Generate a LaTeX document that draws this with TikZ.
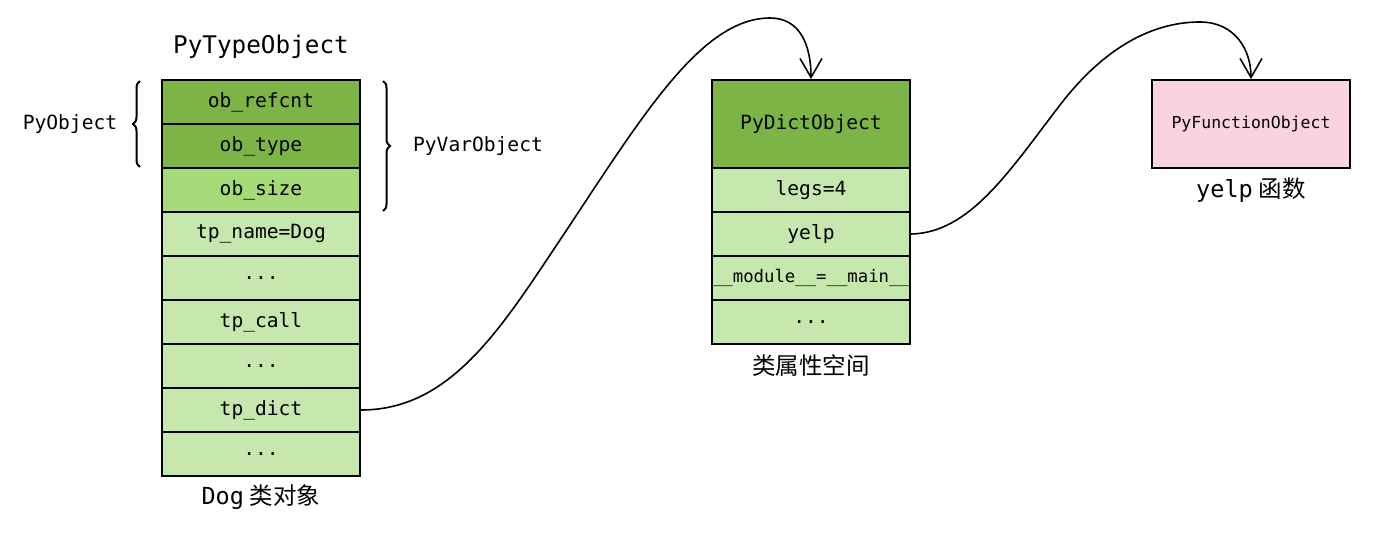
\documentclass[tikz,border=0pt]{standalone}
\usepackage{fontspec}
\setmonofont{DejaVu Sans Mono}
\newfontfamily\cjk{Noto Sans CJK SC}
\usetikzlibrary{arrows.meta,decorations.pathreplacing,positioning}
\definecolor{dgreen}{HTML}{7DB446}
\definecolor{mgreen}{HTML}{A6D977}
\definecolor{lgreen}{HTML}{C6E8AE}
\definecolor{pinkf}{HTML}{F9D3DF}
\tikzset{
  cell/.style={draw=black, line width=2pt, minimum width=198pt, minimum height=44pt,
    inner sep=0pt, font=\ttfamily\fontsize{19.6}{20}\selectfont, anchor=north west},
  small/.style={font=\ttfamily\fontsize{17.3}{18}\selectfont},
  lbl/.style={font=\ttfamily\fontsize{19.6}{20}\selectfont},
  big/.style={font=\ttfamily\fontsize{23.5}{25}\selectfont},
  conn/.style={line width=1.6pt, -{Straight Barb[length=19pt,width=22pt,line width=1.6pt]}},
  bracestyle/.style={line width=2pt, decorate, decoration={brace, amplitude=7pt}}
}
\begin{document}
\begin{tikzpicture}[x=1pt,y=-1pt]
\useasboundingbox (0,0) rectangle (1377,535);
% left column
\node[cell, fill=dgreen] (refcnt) at (161,79) {ob\_refcnt};
\node[cell, fill=dgreen] (type) at (161,123) {ob\_type};
\node[cell, fill=mgreen] (size) at (161,167) {ob\_size};
\node[cell, fill=lgreen] (name) at (161,211) {tp\_name=Dog};
\node[cell, fill=lgreen] (d1) at (161,255) {...};
\node[cell, fill=lgreen] (call) at (161,299) {tp\_call};
\node[cell, fill=lgreen] (d2) at (161,343) {...};
\node[cell, fill=lgreen] (tpdict) at (161,387) {tp\_dict};
\node[cell, fill=lgreen] (d3) at (161,431) {...};
\node[font=\ttfamily\fontsize{24.3}{26}\selectfont] (title) at (261,47) {PyTypeObject};
\node[big] (dog) at (261,497) {Dog\hspace{6pt}{\cjk 类对象}};
% braces
\coordinate (lb1) at (140,167);
\coordinate (lb2) at (140,81);
\draw[bracestyle] (lb1) -- (lb2);
\node[lbl] (pyobj) at (70,124) {PyObject};
\coordinate (rb1) at (383,81);
\coordinate (rb2) at (383,211);
\draw[bracestyle] (rb1) -- (rb2);
\node[lbl] (pyvar) at (478,146) {PyVarObject};
% dict column
\node[cell, fill=dgreen, minimum height=88pt] (dhead) at (711,79) {PyDictObject};
\node[cell, fill=lgreen] (legs) at (711,167) {legs=4};
\node[cell, fill=lgreen] (yelp) at (711,211) {yelp};
\node[cell, fill=lgreen, small] (mod) at (711,255) {\_\_module\_\_=\_\_main\_\_};
\node[cell, fill=lgreen] (d4) at (711,299) {...};
\node[font=\cjk\fontsize{23.5}{25}\selectfont] (space) at (811,366) {类属性空间};
% function
\node[cell, fill=pinkf, minimum height=88pt, font=\ttfamily\fontsize{16.5}{18}\selectfont] (func) at (1151,79) {PyFunctionObject};
\node[big] (ylbl) at (1251,190) {yelp\hspace{6pt}{\cjk 函数}};
% connectors
\draw[conn] (tpdict.east) .. controls (450,410) and (500,330) .. (560,240)
  .. controls (640,120) and (700,18) .. (770,18)
  .. controls (800,18) and (811,45) .. (dhead.north);
\draw[conn] (yelp.east) .. controls (970,233) and (1010,170) .. (1060,105)
  .. controls (1110,40) and (1160,22) .. (1200,22)
  .. controls (1235,22) and (1251,50) .. (func.north);
\end{tikzpicture}
\end{document}
